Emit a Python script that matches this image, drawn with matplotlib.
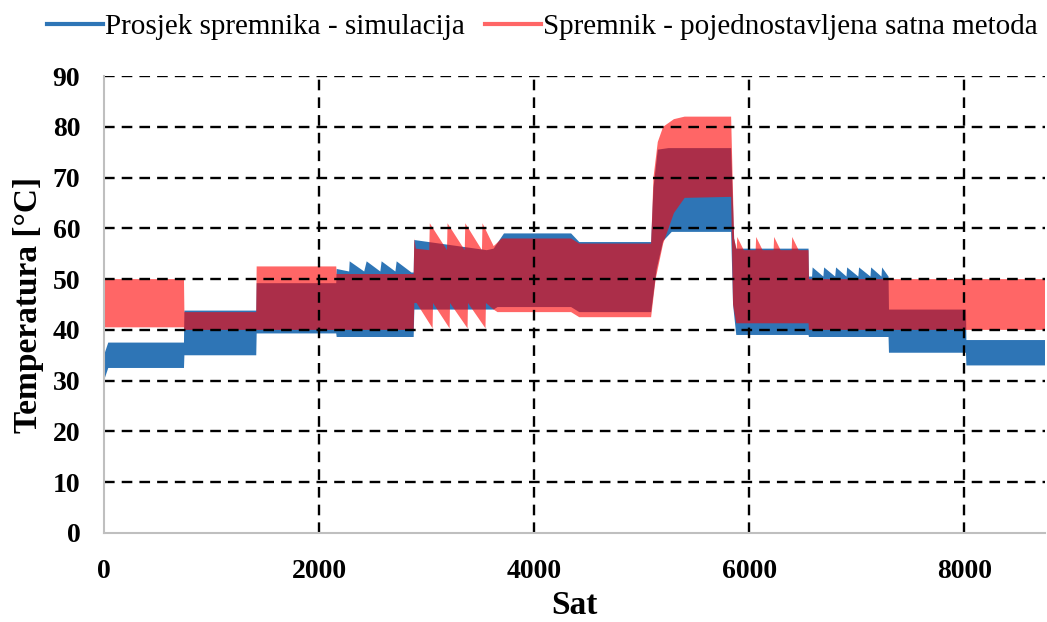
import matplotlib
matplotlib.use("Agg")
import matplotlib.pyplot as plt
from matplotlib.lines import Line2D

plt.rcParams['font.family'] = ['Liberation Serif', 'DejaVu Serif']

# Prosjek spremnika - simulacija (band of hourly values, breakpoints)
blue_top_h = [0, 40, 744, 748, 1416, 1420, 2160, 2164,
              2280, 2285, 2420, 2443, 2570, 2582, 2710, 2722, 2860, 2880,
              2886, 3560, 3624, 3720, 4344, 4420, 5088,
              5110, 5150, 5250, 5832, 5860, 5880, 6552, 6556,
              6585, 6590, 6690, 6697, 6800, 6808, 6905, 6911, 7015, 7022,
              7128, 7134, 7230, 7236, 7296, 7300, 8016, 8020, 8760]
blue_top = [35, 37.5, 37.5, 43.8, 43.8, 49.2, 49.2, 52,
            51.5, 53.5, 51.5, 53.5, 51.5, 53.5, 51.5, 53.5, 51.3, 51.3,
            57.7, 55.7, 56, 59, 59, 57.3, 57.3,
            68, 75.5, 75.8, 75.8, 58, 56, 56, 50.5,
            50.5, 52.3, 50.5, 52.3, 50.5, 52.3, 50.5, 52.3, 50.5, 52.3,
            50.5, 52.3, 50.5, 52.3, 50.5, 44, 44, 38, 38]
blue_bot_h = [0, 40, 744, 748, 1416, 1420, 2160, 2164, 2880, 2886, 3624, 3660,
              4344, 4420, 5088, 5140, 5200, 5280, 5832, 5850, 5880, 6552, 6556,
              7296, 7300, 8016, 8020, 8760]
blue_bot = [30, 32.5, 32.5, 35, 35, 39.3, 39.3, 38.6, 38.6, 44, 44, 44.5,
            44.5, 43.5, 43.5, 52, 57.5, 59.3, 59.3, 45, 39, 39, 38.6,
            38.6, 35.5, 35.5, 33, 33]

# Spremnik - pojednostavljena satna metoda
red_top_h = [0, 744, 748, 1416, 1420, 2160, 2164, 2880, 2886, 2900,
             3025, 3030, 3190, 3195, 3355, 3360, 3515, 3520, 3624, 3700,
             4344, 4420, 5088, 5110, 5150, 5200, 5300, 5400, 5832, 5860,
             5884, 5889, 5950, 6060, 6065, 6125, 6227, 6232, 6292, 6395, 6400, 6460,
             6552, 6556, 8760]
red_top = [50, 50, 43.5, 43.5, 52.5, 52.5, 51, 51, 58, 56,
           55.7, 61, 55.7, 61, 55.7, 61, 55.7, 61, 56.5, 58,
           58, 57, 57, 70, 77, 80, 81.5, 82, 82, 58,
           55.7, 58.3, 55.7, 55.7, 58.3, 55.7, 55.7, 58.3, 55.7, 55.7, 58.3, 55.7,
           55.7, 50, 50]
red_bot_h = [0, 744, 748, 2880, 2886, 2907, 3056, 3060, 3214, 3218, 3381, 3385,
             3548, 3552, 3624, 3660, 4344, 4420, 5088, 5130, 5200, 5300, 5400,
             5832, 5850, 5880, 6552, 6556, 8760]
red_bot = [40.5, 40.5, 40, 40, 45.3, 45.3, 40.3, 45.3, 40.3, 45.3, 40.3, 45.3,
           40.3, 45.3, 44, 43.5, 43.5, 42.5, 42.5, 50, 57, 63, 66,
           66.2, 45, 41.3, 41.3, 40, 40]

labels = ['Prosjek spremnika - simulacija', 'Spremnik - pojednostavljena satna metoda']
x_ticks = [0, 2000, 4000, 6000, 8000]
y_ticks = list(range(0, 91, 10))

blue = '#2E75B6'
red = '#FF0000'

fig = plt.figure(figsize=(10.47, 6.22), dpi=100)
ax = fig.add_axes([0.0993, 0.1431, 0.8987, 0.7347])

# band = upper edge forward, lower edge backwards
ax.fill(blue_top_h + blue_bot_h[::-1], blue_top + blue_bot[::-1],
        color=blue, lw=0, zorder=1)
ax.fill(red_top_h + red_bot_h[::-1], red_top + red_bot[::-1],
        color=red, alpha=0.6, lw=0, zorder=1.2)

ax.set_xlim(0, 8750)
ax.set_ylim(0, 90)
ax.set_xticks(x_ticks)
ax.set_yticks(y_ticks)
ax.set_axisbelow(False)
ax.grid(True, color='black', linestyle=(0, (4.5, 3)), linewidth=1.7)
# no dashed line over the axes at 0
ax.get_xgridlines()[0].set_visible(False)
ax.get_ygridlines()[0].set_visible(False)
ax.tick_params(length=0, labelsize=20)
ax.tick_params(axis='y', pad=17)
ax.tick_params(axis='x', pad=19)
for t in ax.get_xticklabels() + ax.get_yticklabels():
    t.set_fontweight('bold')

for s in ['top', 'right']:
    ax.spines[s].set_visible(False)
for s in ['left', 'bottom']:
    ax.spines[s].set_color('#BFBFBF')
    ax.spines[s].set_linewidth(1.5)
    ax.spines[s].set_zorder(3)

ax.set_xlabel('Sat', fontsize=24, fontweight='bold', labelpad=4)
ax.set_ylabel('Temperatura [°C]', fontsize=24, fontweight='bold', labelpad=6)

handles = [Line2D([], [], color=blue, lw=3),
           Line2D([], [], color='#FF6666', lw=3)]
fig.legend(handles, labels, loc='center', bbox_to_anchor=(0.518, 0.957), ncol=2,
           frameon=False, fontsize=21, handlelength=1.9, handletextpad=0.07,
           columnspacing=0.7)

fig.savefig('out.png', dpi=100)
